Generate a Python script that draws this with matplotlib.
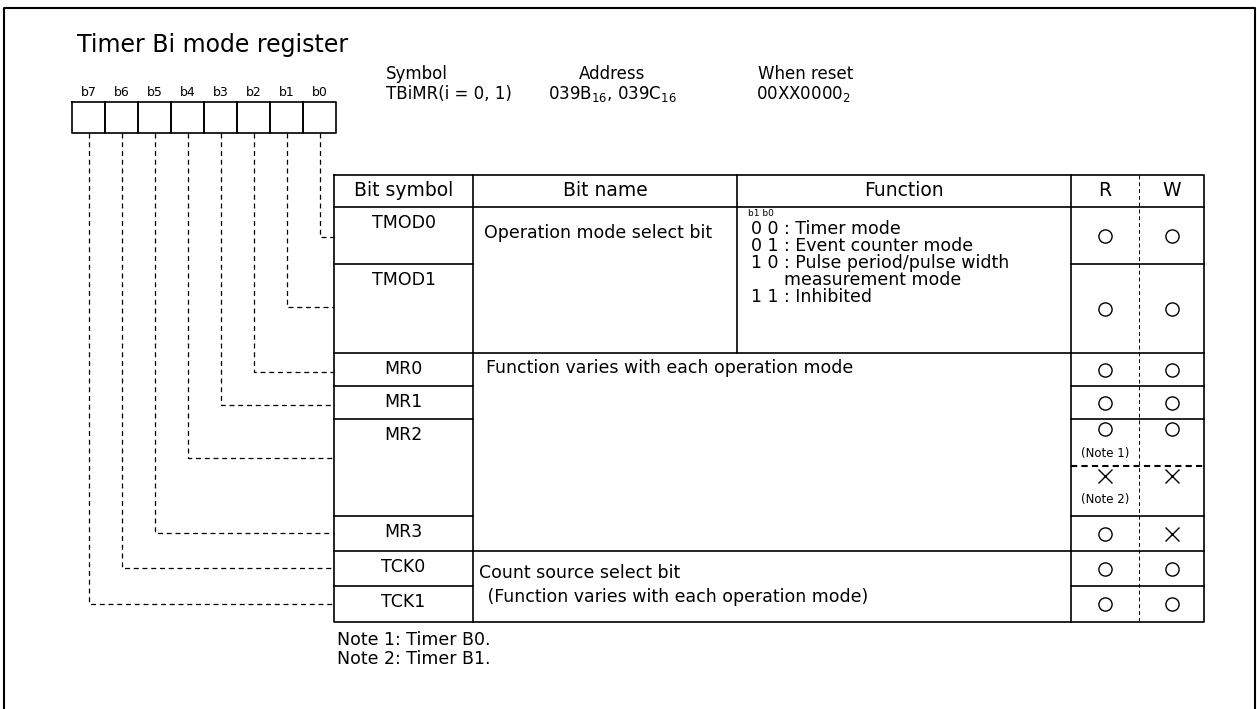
import matplotlib.pyplot as plt

plt.rcParams['font.family'] = ['DejaVu Sans']
plt.rcParams['mathtext.fontset'] = 'custom'
plt.rcParams['mathtext.rm'] = 'DejaVu Sans'

# register data
title = 'Timer Bi mode register'
bits = ['b7', 'b6', 'b5', 'b4', 'b3', 'b2', 'b1', 'b0']
bit_symbols = ['TMOD0', 'TMOD1', 'MR0', 'MR1', 'MR2', 'MR3', 'TCK0', 'TCK1']
# which table row each register bit connects to (b7..b0)
bit_to_row = [7, 6, 5, 4, 3, 2, 1, 0]
headers = ['Bit symbol', 'Bit name', 'Function', 'R', 'W']
access_r = ['o', 'o', 'o', 'o', 'o', 'x', 'o', 'o', 'o']
access_w = ['o', 'o', 'o', 'o', 'o', 'x', 'x', 'o', 'o']
access_note = ['', '', '', '', '(Note 1)', '(Note 2)', '', '', '']
mode_lines = ['0 0 : Timer mode', '0 1 : Event counter mode',
              '1 0 : Pulse period/pulse width', '      measurement mode',
              '1 1 : Inhibited']
notes = ['Note 1: Timer B0.', 'Note 2: Timer B1.']

# layout (pixels)
W, H = 1257, 709
fig = plt.figure(figsize=(W / 100, H / 100), dpi=100)
ax = fig.add_axes([0, 0, 1, 1])
ax.set_xlim(0, W)
ax.set_ylim(H, 0)
ax.axis('off')

lw = 1.2
fs = 12.5

def line(x, y, **kw):
    kw.setdefault('color', 'k')
    kw.setdefault('lw', lw)
    ax.plot(x, y, solid_capstyle='projecting', **kw)

# outer frame
line([4, 4, 1255, 1255], [712, 8, 8, 712], lw=1.5)

ax.text(77, 45, title, fontsize=17, va='center', ha='left')

# register boxes
box_l, box_w, box_t, box_b = 72, 33, 102, 133
for i, b in enumerate(bits):
    x0 = box_l + i * box_w
    line([x0, x0 + box_w, x0 + box_w, x0, x0], [box_t, box_t, box_b, box_b, box_t])
    ax.text(x0 + box_w / 2, 92, b, fontsize=9, ha='center', va='center')

# symbol / address / reset  (placed by baseline)
fs_top = 12
ax.text(386, 79, 'Symbol', fontsize=fs_top, va='baseline')
ax.text(386, 99, 'TBiMR(i = 0, 1)', fontsize=fs_top, va='baseline')
ax.text(612, 79, 'Address', fontsize=fs_top, va='baseline', ha='center')
ax.text(612, 99, r'039B$_{\mathrm{16}}$, 039C$_{\mathrm{16}}$', fontsize=fs_top,
        va='baseline', ha='center')
ax.text(758, 79, 'When reset', fontsize=fs_top, va='baseline')
ax.text(756, 99, r'00XX0000$_{\mathrm{2}}$', fontsize=fs_top, va='baseline')

# table geometry
cols = [334, 473, 737, 1071, 1139, 1204]
t_top, h_bot = 175, 207
row_edges = [207, 264, 353, 386, 419, 516, 551, 586, 622]
sub_edges = [207, 264, 353, 386, 419, 466, 516, 551, 586, 622]
t_bot = row_edges[-1]

# outer table box
line([cols[0], cols[-1], cols[-1], cols[0], cols[0]], [t_top, t_top, t_bot, t_bot, t_top])
line([cols[0], cols[-1]], [h_bot, h_bot])
for x in [cols[1], cols[3]]:
    line([x, x], [t_top, t_bot])
line([cols[2], cols[2]], [t_top, row_edges[2]])
line([cols[4], cols[4]], [t_top, t_bot], lw=0.7, ls=(0, (4, 3)))

# symbol column row lines
for y in row_edges[1:-1]:
    line([cols[0], cols[1]], [y, y])
# block lines in name/function region
for y in [row_edges[2], row_edges[6]]:
    line([cols[1], cols[3]], [y, y])
# R/W row lines
for y in sub_edges[1:-1]:
    if y == 466:
        line([cols[3], cols[5]], [y, y], lw=1.5, ls=(0, (3, 2)))
    else:
        line([cols[3], cols[5]], [y, y])

# headers
hy = (t_top + h_bot) / 2
for i, h in enumerate(headers):
    ax.text((cols[i] + cols[i + 1]) / 2, hy, h, fontsize=13.5, ha='center', va='center')

# bit symbols
for i, s in enumerate(bit_symbols):
    top, bot = row_edges[i], row_edges[i + 1]
    y = min((top + bot) / 2, top + 16)
    ax.text((cols[0] + cols[1]) / 2, y, s, fontsize=fs, ha='center', va='center')

# names / functions
ax.text(484, 233, 'Operation mode select bit', fontsize=fs, va='center')
ax.text(748, 213, 'b1 b0', fontsize=6.5, va='center')
for i, m in enumerate(mode_lines):
    ax.text(751, 229 + i * 17, m, fontsize=fs, va='center')
ax.text(486, 368, 'Function varies with each operation mode', fontsize=fs, va='center')
ax.text(479, 573, 'Count source select bit', fontsize=fs, va='center')
ax.text(482, 597, ' (Function varies with each operation mode)', fontsize=fs, va='center')

# access marks
xr = (cols[3] + cols[4]) / 2
xw = (cols[4] + cols[5]) / 2
for i in range(len(access_r)):
    top, bot = sub_edges[i], sub_edges[i + 1]
    y = top + 10 if access_note[i] else (top + bot) / 2
    for x, v in [(xr, access_r[i]), (xw, access_w[i])]:
        if v == 'o':
            ax.plot(x, y, marker='o', ms=9.5, mfc='none', mec='k', mew=1.0)
        else:
            ax.plot(x, y, marker='x', ms=9.5, mec='k', mew=1.0)
    if access_note[i]:
        ax.text(xr, top + 34, access_note[i], fontsize=8.5, ha='center', va='center')

# dashed connectors from register bits to rows
conn_y = [237, 307, 372, 405, 458, 533, 568, 604]
for i, r in enumerate(bit_to_row):
    bx = box_l + i * box_w + box_w / 2
    line([bx, bx, cols[0]], [box_b, conn_y[r], conn_y[r]], lw=0.9, ls=(0, (4, 3)))

for i, n in enumerate(notes):
    ax.text(337, 640 + i * 19, n, fontsize=fs, va='center')

fig.savefig('out.png', dpi=100)
